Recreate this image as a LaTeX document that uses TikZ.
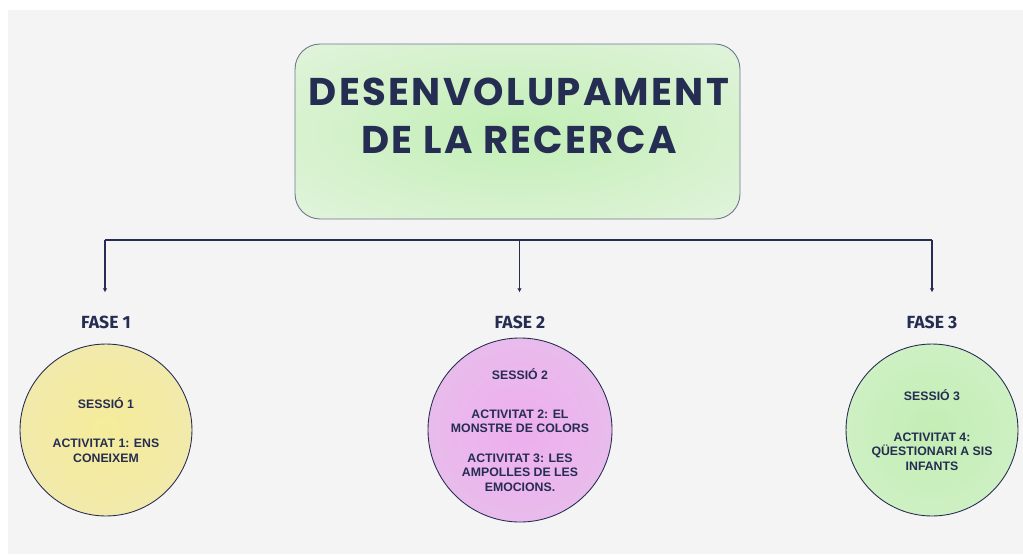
\documentclass[tikz,border=0pt]{standalone}
\usepackage{fontspec}
\setmainfont{Liberation Sans}
\newfontfamily\titlefont{Poppins}[LetterSpace=6]
\newfontfamily\fasefont{Fira Sans}
\usetikzlibrary{arrows.meta}

\definecolor{panel}{HTML}{F4F4F4}
\definecolor{ink}{HTML}{262D52}
\definecolor{rim}{HTML}{70768F}
\definecolor{titleC}{HTML}{C2EFB6}
\definecolor{titleE}{HTML}{EEF5EA}
\definecolor{yelC}{HTML}{F5EC9A}
\definecolor{yelE}{HTML}{EFE7BC}
\definecolor{pinkC}{HTML}{EEAEEE}
\definecolor{pinkE}{HTML}{E4C8EA}
\definecolor{grnC}{HTML}{C2EEB4}
\definecolor{grnE}{HTML}{DAF2D2}

\pgfdeclareradialshading{titleglow}{\pgfpointorigin}{color(0bp)=(titleC); color(50bp)=(titleE); color(75bp)=(titleE)}
\pgfdeclareradialshading{yelglow}{\pgfpointorigin}{color(0bp)=(yelC); color(50bp)=(yelE); color(75bp)=(yelE)}
\pgfdeclareradialshading{pinkglow}{\pgfpointorigin}{color(0bp)=(pinkC); color(50bp)=(pinkE); color(75bp)=(pinkE)}
\pgfdeclareradialshading{grnglow}{\pgfpointorigin}{color(0bp)=(grnC); color(50bp)=(grnE); color(75bp)=(grnE)}

\tikzset{
	titlebox/.style={draw=rim, line width=0.5pt, rounded corners=0.5cm,
		minimum width=8.9cm, minimum height=3.5cm, shading=titleglow},
	titletext/.style={ink, align=center, font=\titlefont\bfseries\fontsize{22}{27}\selectfont},
	fase/.style={ink, font=\fasefont\bfseries\fontsize{10}{12}\selectfont},
	sessio/.style={circle, draw=rim, line width=0.5pt, minimum size=3.44cm, inner sep=0pt,
		ink, align=center, font=\bfseries\fontsize{7}{8.2}\selectfont},
	link/.style={draw=ink, line width=0.75pt},
	arr/.style={link, -{Latex[length=0.8mm,width=0.9mm]}}
}

\begin{document}
\begin{tikzpicture}[x=0.02cm, y=-0.02cm]
	% background
	\useasboundingbox (0,0) rectangle (1023,554);
	\fill[white] (0,0) rectangle (1023,554);
	\fill[panel] (8,10) rectangle (1023,554);
	
	% title
	\node[titlebox] (box) at (517.5,131.5) {};
	\node[titletext] (title) at (519,116) {DESENVOLUPAMENT\\DE LA RECERCA};
	
	% phases and connectors
	\coordinate (h1) at (105,240);
	\coordinate (h2) at (519.5,240);
	\coordinate (h3) at (932,240);
	\draw[link] (h1) -- (h3);
	\foreach \i/\x in {1/106, 2/520, 3/932}
	{
		\node[fase] (f\i) at (\x,322) {FASE \i};
		\draw[arr, shorten >=17*0.02cm] (h\i) -- (h\i |- f\i.north);
	}
	
	% sessions
	\node[sessio, shading=yelglow] (s1) at (106,430)
		{SESSIÓ 1\\[14pt] ACTIVITAT 1: ENS\\CONEIXEM};
	\node[sessio, shading=pinkglow] (s2) at (520,430)
		{SESSIÓ 2\\[14pt] ACTIVITAT 2: EL\\MONSTRE DE COLORS\\[8.6pt]
		ACTIVITAT 3: LES\\AMPOLLES DE LES\\EMOCIONS.};
	\node[sessio, shading=grnglow] (s3) at (932,430)
		{SESSIÓ 3\\[15pt] ACTIVITAT 4:\\QÜESTIONARI A SIS\\INFANTS};
\end{tikzpicture}
\end{document}
